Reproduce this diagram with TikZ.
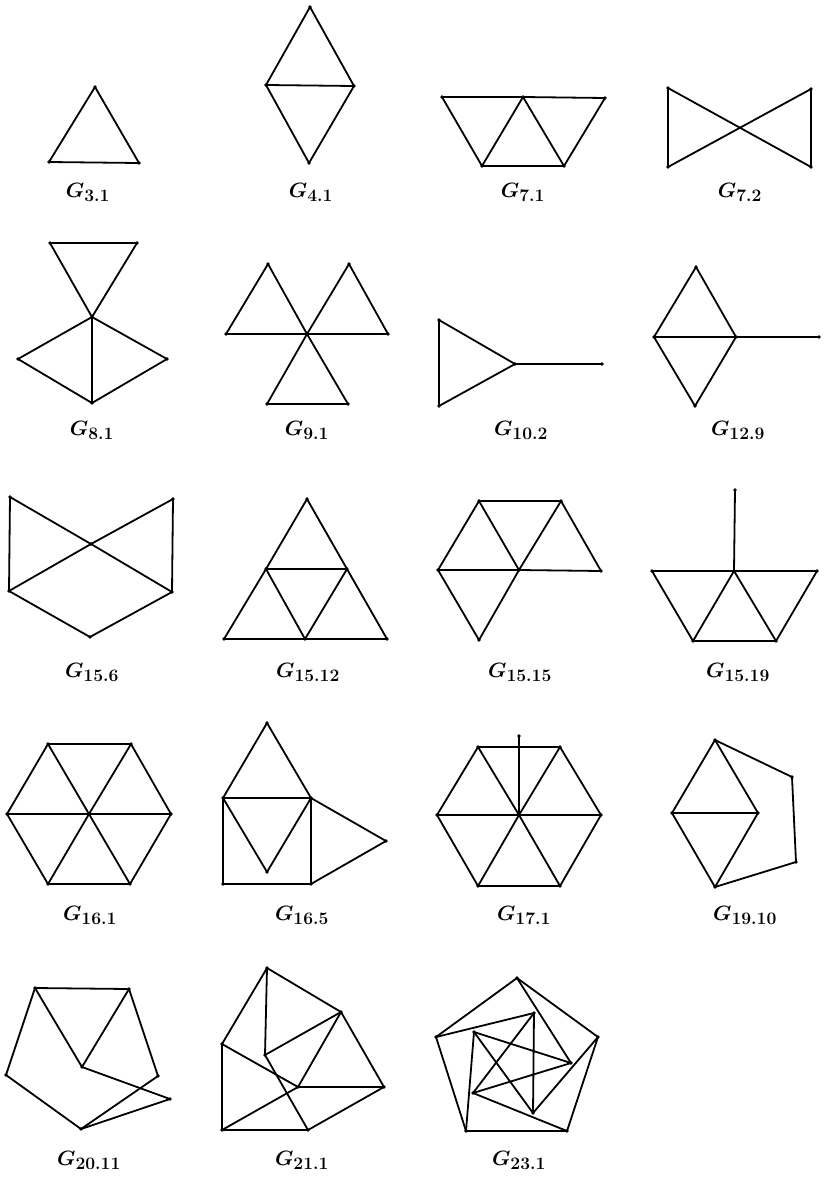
\documentclass[tikz,border=0pt]{standalone}
\usepackage{amsmath,bm}
\newcommand\glab[1]{$\bm{G}_{\hbox{\fontsize{17.5}{18}\selectfont\bfseries #1}}$}
\begin{document}
\begin{tikzpicture}[x=1pt,y=-1pt,
  v/.style={circle,fill,inner sep=0pt,minimum size=3.8pt},
  e/.style={line width=1.8pt,line cap=round,line join=round},
  lab/.style={anchor=base,inner sep=0pt,font=\fontsize{22}{26}\selectfont}]
\useasboundingbox (0,0) rectangle (825,1178);
% ---------- G3.1
\node[v] (a1) at (95,87) {};
\node[v] (a2) at (49,162) {};
\node[v] (a3) at (139,163) {};
\foreach \p/\q in {a1/a2,a2/a3,a3/a1} \draw[e] (\p.center) -- (\q.center);
\node[lab] (la) at (88,197) {\glab{3.1}};
% ---------- G4.1
\node[v] (b1) at (310,7) {};
\node[v] (b2) at (266,85) {};
\node[v] (b3) at (354,86) {};
\node[v] (b4) at (309,163) {};
\foreach \p/\q in {b1/b2,b1/b3,b2/b3,b2/b4,b3/b4} \draw[e] (\p.center) -- (\q.center);
\node[lab] (lb) at (311,197) {\glab{4.1}};
% ---------- G7.1
\node[v] (c1) at (442,97) {};
\node[v] (c2) at (523,97) {};
\node[v] (c3) at (605,98) {};
\node[v] (c4) at (482,166) {};
\node[v] (c5) at (564,166) {};
\foreach \p/\q in {c1/c2,c2/c3,c1/c4,c4/c2,c2/c5,c5/c3,c4/c5} \draw[e] (\p.center) -- (\q.center);
\node[lab] (lc) at (523,197) {\glab{7.1}};
% ---------- G7.2
\node[v] (d1) at (668,88) {};
\node[v] (d2) at (668,167) {};
\node[v] (d3) at (811,89) {};
\node[v] (d4) at (811,167) {};
\foreach \p/\q in {d1/d2,d3/d4,d1/d4,d2/d3} \draw[e] (\p.center) -- (\q.center);
\node[lab] (ld) at (740,197) {\glab{7.2}};
% ---------- G8.1
\node[v] (f1) at (50,243) {};
\node[v] (f2) at (137,243) {};
\node[v] (f3) at (92,317) {};
\node[v] (f4) at (18,359) {};
\node[v] (f5) at (167,359) {};
\node[v] (f6) at (92,403) {};
\foreach \p/\q in {f1/f2,f1/f3,f2/f3,f3/f4,f3/f5,f3/f6,f4/f6,f5/f6} \draw[e] (\p.center) -- (\q.center);
\node[lab] (lf) at (92,435) {\glab{8.1}};
% ---------- G9.1
\node[v] (g1) at (268,264) {};
\node[v] (g2) at (349,264) {};
\node[v] (g3) at (226,334) {};
\node[v] (g4) at (307,334) {};
\node[v] (g5) at (388,334) {};
\node[v] (g6) at (267,404) {};
\node[v] (g7) at (348,404) {};
\foreach \p/\q in {g3/g1,g1/g4,g3/g4,g4/g2,g2/g5,g4/g5,g4/g6,g4/g7,g6/g7} \draw[e] (\p.center) -- (\q.center);
\node[lab] (lg) at (307,435) {\glab{9.1}};
% ---------- G10.2
\node[v] (h1) at (439,320) {};
\node[v] (h2) at (439,406) {};
\node[v] (h3) at (515,364) {};
\node[v] (h4) at (602,364) {};
\foreach \p/\q in {h1/h2,h1/h3,h2/h3,h3/h4} \draw[e] (\p.center) -- (\q.center);
\node[lab] (lh) at (521,435) {\glab{10.2}};
% ---------- G12.9
\node[v] (i1) at (696,267) {};
\node[v] (i2) at (654,337) {};
\node[v] (i3) at (736,337) {};
\node[v] (i4) at (819,337) {};
\node[v] (i5) at (695,406) {};
\foreach \p/\q in {i1/i2,i1/i3,i2/i3,i2/i5,i3/i5,i3/i4} \draw[e] (\p.center) -- (\q.center);
\node[lab] (li) at (738,435) {\glab{12.9}};
% ---------- G15.6
\node[v] (j1) at (10,497) {};
\node[v] (j2) at (173,499) {};
\node[v] (j3) at (91,544) {};
\node[v] (j4) at (9,591) {};
\node[v] (j5) at (172,592) {};
\node[v] (j6) at (90,637) {};
\foreach \p/\q in {j1/j4,j1/j3,j3/j5,j2/j3,j2/j5,j3/j4,j4/j6,j5/j6} \draw[e] (\p.center) -- (\q.center);
\node[lab] (lj) at (92,677) {\glab{15.6}};
% ---------- G15.12
\node[v] (k1) at (307,499) {};
\node[v] (k2) at (266,569) {};
\node[v] (k3) at (347,569) {};
\node[v] (k4) at (224,639) {};
\node[v] (k5) at (305,639) {};
\node[v] (k6) at (387,639) {};
\foreach \p/\q in {k1/k2,k1/k3,k2/k3,k2/k4,k2/k5,k3/k5,k3/k6,k4/k5,k5/k6} \draw[e] (\p.center) -- (\q.center);
\node[lab] (lk) at (308,677) {\glab{15.12}};
% ---------- G15.15
\node[v] (m1) at (479,501) {};
\node[v] (m2) at (561,501) {};
\node[v] (m3) at (438,570) {};
\node[v] (m4) at (519,570) {};
\node[v] (m5) at (601,571) {};
\node[v] (m6) at (479,640) {};
\foreach \p/\q in {m1/m2,m1/m3,m1/m4,m2/m4,m2/m5,m3/m4,m4/m5,m3/m6,m4/m6} \draw[e] (\p.center) -- (\q.center);
\node[lab] (lm) at (520,677) {\glab{15.15}};
% ---------- G15.19
\node[v] (n1) at (735,490) {};
\node[v] (n2) at (652,571) {};
\node[v] (n3) at (734,571) {};
\node[v] (n4) at (817,571) {};
\node[v] (n5) at (693,641) {};
\node[v] (n6) at (776,641) {};
\foreach \p/\q in {n1/n3,n2/n3,n3/n4,n2/n5,n3/n5,n3/n6,n4/n6,n5/n6} \draw[e] (\p.center) -- (\q.center);
\node[lab] (ln) at (738,677) {\glab{15.19}};
% ---------- G16.1
\node[v] (o1) at (48,744) {};
\node[v] (o2) at (131,744) {};
\node[v] (o3) at (7,814) {};
\node[v] (o4) at (89,814) {};
\node[v] (o5) at (171,814) {};
\node[v] (o6) at (48,884) {};
\node[v] (o7) at (130,884) {};
\foreach \p/\q in {o1/o2,o2/o5,o5/o7,o7/o6,o6/o3,o3/o1,o1/o4,o4/o7,o2/o4,o4/o6,o3/o4,o4/o5} \draw[e] (\p.center) -- (\q.center);
\node[lab] (lo) at (90,920) {\glab{16.1}};
% ---------- G16.5
\node[v] (p1) at (267,723) {};
\node[v] (p2) at (223,798) {};
\node[v] (p3) at (311,798) {};
\node[v] (p4) at (223,884) {};
\node[v] (p5) at (311,884) {};
\node[v] (p6) at (267,872) {};
\node[v] (p7) at (386,841) {};
\foreach \p/\q in {p1/p2,p1/p3,p2/p3,p2/p4,p4/p5,p5/p3,p2/p6,p3/p6,p3/p7,p5/p7} \draw[e] (\p.center) -- (\q.center);
\node[lab] (lp) at (302,920) {\glab{16.5}};
% ---------- G17.1
\node[v] (q1) at (478,747) {};
\node[v] (q2) at (560,747) {};
\node[v] (q3) at (437,815) {};
\node[v] (q4) at (519,815) {};
\node[v] (q5) at (601,815) {};
\node[v] (q6) at (478,886) {};
\node[v] (q7) at (560,886) {};
\node[v] (q8) at (519,736) {};
\foreach \p/\q in {q1/q2,q2/q5,q5/q7,q7/q6,q6/q3,q3/q1,q1/q4,q4/q7,q2/q4,q4/q6,q3/q4,q4/q5,q4/q8} \draw[e] (\p.center) -- (\q.center);
\node[lab] (lq) at (524,920) {\glab{17.1}};
% ---------- G19.10
\node[v] (r1) at (715,740) {};
\node[v] (r2) at (672,813) {};
\node[v] (r3) at (758,813) {};
\node[v] (r4) at (715,887) {};
\node[v] (r5) at (792,777) {};
\node[v] (r6) at (796,862) {};
\foreach \p/\q in {r1/r2,r1/r3,r2/r3,r2/r4,r3/r4,r1/r5,r5/r6,r6/r4} \draw[e] (\p.center) -- (\q.center);
\node[lab] (lr) at (745,920) {\glab{19.10}};
% ---------- G20.11
\node[v] (s1) at (35,988) {};
\node[v] (s2) at (129,989) {};
\node[v] (s3) at (6,1075) {};
\node[v] (s4) at (82,1067) {};
\node[v] (s5) at (158,1076) {};
\node[v] (s6) at (170,1099) {};
\node[v] (s7) at (81,1129) {};
\foreach \p/\q in {s1/s2,s1/s3,s1/s4,s2/s4,s2/s5,s3/s7,s4/s6,s5/s7,s7/s6} \draw[e] (\p.center) -- (\q.center);
\node[lab] (ls) at (89,1165) {\glab{20.11}};
% ---------- G21.1
\node[v] (t1) at (267,968) {};
\node[v] (t2) at (341,1012) {};
\node[v] (t3) at (222,1044) {};
\node[v] (t4) at (265,1055) {};
\node[v] (t5) at (298,1087) {};
\node[v] (t6) at (384,1087) {};
\node[v] (t7) at (222,1130) {};
\node[v] (t8) at (308,1130) {};
\foreach \p/\q in {t1/t3,t1/t4,t1/t2,t4/t2,t2/t5,t2/t6,t3/t7,t3/t5,t4/t8,t5/t6,t5/t7,t7/t8,t8/t6} \draw[e] (\p.center) -- (\q.center);
\node[lab] (lt) at (302,1165) {\glab{21.1}};
% ---------- G23.1
\node[v] (u1) at (517,978) {};
\node[v] (u2) at (436,1037) {};
\node[v] (u3) at (598,1037) {};
\node[v] (u4) at (466,1131) {};
\node[v] (u5) at (567,1131) {};
\node[v] (w1) at (534,1013) {};
\node[v] (w2) at (474,1032) {};
\node[v] (w3) at (571,1063) {};
\node[v] (w4) at (473,1093) {};
\node[v] (w5) at (533,1113) {};
\foreach \p/\q in {u1/u2,u1/u3,u2/u4,u4/u5,u5/u3,u1/w3,u2/w1,u3/w5,u5/w4,u4/w2,w1/w5,w1/w4,w4/w3,w3/w2,w2/w5} \draw[e] (\p.center) -- (\q.center);
\node[lab] (lu) at (519,1165) {\glab{23.1}};
\end{tikzpicture}
\end{document}
